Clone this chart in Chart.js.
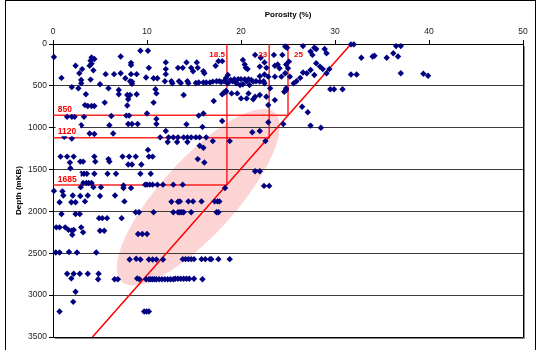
<!DOCTYPE html>
<html>
<head>
<meta charset="utf-8">
<script src="https://cdn.jsdelivr.net/npm/chart.js@4/dist/chart.umd.min.js"></script>
<style>
  html, body { margin: 0; padding: 0; background: #fff; }
  canvas { display: block; }
</style>
</head>
<body>
<canvas id="chart" width="540" height="350"></canvas>
<script>
// Core samples: [porosity (%), depth (mKB)]
const samples = [
  [0.1,155],[9.3,80],[10.1,80],[7.2,150],[4.1,160],[4.4,180],[4.0,200],[4.1,235],[3.9,260],[17.6,205],
  [18.0,205],[17.3,260],[8.3,225],[12.0,220],[14.2,220],[15.3,220],[2.4,260],[10.2,285],[8.3,250],[13.3,285],
  [13.8,285],[14.7,285],[15.4,285],[3.1,300],[2.8,350],[12.0,300],[14.9,325],[16.0,325],[16.1,350],[5.6,360],
  [6.5,360],[7.2,350],[8.3,360],[8.9,360],[12.0,360],[4.3,315],[0.9,405],[3.0,430],[4.0,425],[7.7,410],
  [9.9,400],[10.7,410],[11.1,410],[8.2,445],[8.4,450],[8.4,475],[11.9,445],[12.6,445],[12.7,470],[13.4,445],
  [13.6,465],[14.3,445],[14.4,470],[15.2,465],[15.5,460],[16.0,460],[16.3,460],[16.7,460],[17.0,450],[17.4,445],
  [17.7,445],[18.2,445],[18.4,405],[3.0,470],[5.0,480],[2.0,515],[2.7,530],[5.9,530],[7.0,550],[7.0,600],
  [7.9,610],[8.2,610],[8.9,600],[10.9,540],[11.0,590],[13.9,610],[3.5,600],[18.2,580],[18.4,560],[18.0,600],
  [8.0,660],[10.7,700],[5.5,700],[7.9,735],[3.4,730],[3.7,740],[4.1,740],[4.4,740],[1.7,750],[17.1,680],
  [10.0,830],[1.5,870],[2.0,870],[2.3,870],[3.3,870],[7.8,855],[8.1,855],[6.2,860],[11.0,895],[16.0,830],
  [15.5,855],[6.0,970],[8.0,955],[8.4,955],[9.0,955],[11.0,955],[14.2,960],[3.0,970],[18.0,920],[3.9,1070],
  [4.4,1075],[6.4,1070],[12.0,1040],[2.0,1130],[1.2,1110],[11.4,1115],[12.3,1115],[12.8,1115],[13.3,1115],[13.9,1115],
  [14.3,1115],[14.7,1115],[15.2,1115],[15.6,1115],[16.3,1115],[17.0,1160],[12.2,1170],[13.2,1170],[14.3,1170],[15.9,990],
  [15.6,1215],[16.0,1240],[10.1,1265],[0.8,1345],[1.5,1345],[2.2,1345],[2.9,1405],[3.2,1405],[4.4,1345],[4.5,1405],
  [5.9,1375],[6.0,1405],[7.4,1345],[8.1,1345],[8.8,1345],[10.2,1345],[10.6,1345],[8.0,1440],[8.4,1440],[9.4,1440],
  [15.4,1375],[16.1,1415],[1.8,1415],[1.85,1485],
  [21.5,130],[23.5,130],[24.4,130],[24.7,30],[24.9,45],[26.6,25],[27.4,90],[27.6,130],[27.8,45],[28.0,60],
  [28.9,60],[29.1,110],[20.2,190],[20.4,245],[20.5,285],[20.7,300],[22.1,165],[22.5,220],[22.0,270],[22.7,285],
  [23.6,260],[23.9,245],[24.1,290],[24.8,245],[25.0,290],[25.1,210],[28.0,230],[28.4,270],[28.7,300],[27.4,310],
  [27.0,350],[27.8,370],[29.4,300],[29.1,350],[26.6,340],[26.3,405],[25.9,445],[25.6,470],[24.7,350],[25.2,390],
  [24.3,390],[23.6,390],[22.9,390],[22.5,365],[22.0,385],[32.8,165],[34.0,150],[34.2,140],[35.5,165],[36.2,110],
  [36.7,150],[36.5,25],[37.0,25],[31.7,5],[32.0,5],[37.0,350],[31.7,365],[32.3,365],[39.4,355],[39.9,380],
  [18.6,370],[19.3,420],[19.7,420],[20.0,420],[20.4,420],[20.8,420],[21.1,430],[21.6,445],[22.0,450],[22.4,445],
  [22.5,470],[19.5,470],[19.9,490],[20.2,480],[20.9,490],[18.6,470],[18.4,570],[19.0,590],[19.6,590],[20.0,650],
  [20.6,650],[20.8,590],[21.3,660],[21.5,630],[22.0,610],[22.7,630],[23.1,530],[23.6,670],[22.9,730],[24.6,570],
  [24.8,550],[24.8,530],[29.5,540],[29.9,540],[30.8,540],[26.5,750],[27.1,815],[27.4,975],[28.5,1000],[22.9,935],
  [22.0,1040],[21.2,1055],[24.5,955],[22.6,1160],[18.8,1160],[21.5,1520],[22.0,1520],
  [18.9,430],[19.1,445],[19.4,440],[20.6,445],[21.3,450],[17.9,455],[18.5,460],
  [3.0,1550],[3.3,1550],[3.6,1550],[4.4,1550],[5.8,1550],[6.7,1550],[9.3,1550],[10.4,1550],
  [3.2,1660],[3.55,1660],[3.8,1660],[4.1,1660],
  [2.95,1710],[4.3,1710],[5.1,1710],[7.5,1690],[7.5,1720],[8.3,1720],[9.8,1680],[10.0,1680],[10.3,1680],[10.6,1680],
  [11.1,1680],[11.7,1680],[12.8,1680],[13.8,1680],[18.3,1720],[22.45,1695],[23.0,1695],
  [0.1,1755],[1.0,1760],[1.1,1810],[2.1,1810],[2.9,1815],[3.7,1810],[5.0,1815],[6.6,1810],
  [0.7,1890],[1.95,1890],[2.4,1890],[3.4,1880],[7.6,1880],[12.6,1885],[13.3,1885],
  [13.5,1880],[14.4,1880],[14.9,1880],[15.8,1880],[17.2,1880],[17.5,1880],[17.7,1880],
  [0.9,2030],[2.4,2030],[2.85,2030],[8.8,2010],[9.15,2010],[10.7,2010],[12.8,2010],[13.3,2010],
  [13.5,2010],[13.7,2010],[13.9,2010],[14.7,2010],[17.4,2010],[17.6,2010],
  [4.9,2080],[5.25,2080],[5.75,2080],[7.3,2080],
  [0.35,2190],[0.7,2190],[1.3,2190],[1.65,2220],[2.0,2230],[2.2,2220],[2.05,2280],[3.0,2190],[3.2,2250],[5.0,2230],
  [5.45,2230],[9.05,2270],[9.5,2270],[10.0,2270],
  [0.3,2490],[0.7,2490],[1.7,2485],[2.55,2490],[4.6,2490],
  [8.15,2575],[8.85,2565],[9.3,2575],[10.2,2575],[10.6,2575],[11.0,2575],[11.7,2575],
  [13.8,2570],[14.1,2570],[14.4,2570],[14.7,2570],[15.0,2570],[15.8,2570],[16.2,2570],[16.7,2570],[16.85,2570],[17.6,2570],
  [18.8,2570],
  [1.5,2745],[1.95,2800],[2.2,2745],[2.85,2745],[3.7,2745],[4.85,2745],[4.8,2810],[6.55,2810],[6.9,2810],[8.95,2800],
  [9.2,2810],[9.9,2810],[10.2,2810],[10.4,2810],[10.6,2810],[10.8,2810],[11.0,2810],[11.3,2810],[11.6,2810],[11.9,2810],
  [12.2,2810],[12.5,2810],[12.8,2810],[13.0,2805],[13.3,2805],[13.6,2805],[13.9,2805],[14.2,2805],[14.5,2805],[15.0,2805],
  [15.9,2810],
  [2.4,2960],[2.15,3080],[0.7,3195],[9.7,3195],[9.95,3195],[10.2,3195]
];

// Compaction trend: [porosity, depth] end points
const trendLine = [[31.7, 0], [4.2, 3500]];

// Cut-offs where the trend meets each depth
const cutoffDepths = [850, 1120, 1685];
const cutoffPorosity = [25, 23, 18.5];

// Axis ticks
const porosityTicks = [0, 10, 20, 30, 40, 50];
const depthTicks = [0, 500, 1000, 1500, 2000, 2500, 3000, 3500];

// Shaded envelope (data units): centre, end of long axis, short/long ratio
const envelope = { center: [15.45, 1830], tip: [23.6, 820], ratio: 0.33 };

const FONT = "'Liberation Sans', Arial, Helvetica, sans-serif";
Chart.defaults.font.family = FONT;

const RED = '#ff0000';

const stepSets = cutoffDepths.map((d, i) => ({
  type: 'line',
  data: [{ x: 0, y: d }, { x: cutoffPorosity[i], y: d }, { x: cutoffPorosity[i], y: 0 }],
  borderColor: 'rgba(255,0,0,0.85)',
  borderWidth: 1.5,
  pointRadius: 0,
  fill: false,
  tension: 0,
  order: 2
}));

// Shaded envelope under the grid and a white page
const backdrop = {
  id: 'backdrop',
  beforeDraw(chart) {
    const { ctx, scales: { x, y } } = chart;
    ctx.save();
    ctx.fillStyle = '#fff';
    ctx.fillRect(0, 0, chart.width, chart.height);
    const cx = x.getPixelForValue(envelope.center[0]);
    const cy = y.getPixelForValue(envelope.center[1]);
    const tx = x.getPixelForValue(envelope.tip[0]);
    const ty = y.getPixelForValue(envelope.tip[1]);
    const a = Math.hypot(tx - cx, ty - cy);
    const b = a * envelope.ratio;
    const rot = Math.atan2(ty - cy, tx - cx);
    ctx.beginPath();
    ctx.ellipse(cx, cy, a, b, rot, 0, Math.PI * 2);
    ctx.fillStyle = 'rgb(252,212,212)';
    ctx.fill();
    ctx.restore();
  }
};

// Cut-off labels, plot frame and outer border
const overlay = {
  id: 'overlay',
  afterDraw(chart) {
    const { ctx, chartArea: ca, scales: { x, y } } = chart;
    ctx.save();

    // plot frame: right and bottom edges with a grey drop shadow
    ctx.lineWidth = 1;
    ctx.strokeStyle = '#888';
    ctx.beginPath();
    ctx.moveTo(Math.round(ca.right) + 1.5, ca.top + 2);
    ctx.lineTo(Math.round(ca.right) + 1.5, Math.round(ca.bottom) + 1.5);
    ctx.lineTo(ca.left + 2, Math.round(ca.bottom) + 1.5);
    ctx.stroke();
    ctx.strokeStyle = '#000';
    ctx.beginPath();
    ctx.moveTo(Math.round(ca.right) + 0.5, ca.top);
    ctx.lineTo(Math.round(ca.right) + 0.5, Math.round(ca.bottom) + 0.5);
    ctx.lineTo(ca.left, Math.round(ca.bottom) + 0.5);
    ctx.stroke();

    // outer border
    ctx.strokeRect(5.5, 0.5, 530, 380);

    // porosity cut-off labels
    ctx.font = "bold 8px " + FONT;
    ctx.fillStyle = RED;
    ctx.textBaseline = 'middle';
    const rowY = y.getPixelForValue(130);
    cutoffPorosity.forEach((p, i) => {
      const px = x.getPixelForValue(p);
      const text = String(p);
      if (i === 0) {
        ctx.textAlign = 'left';
        ctx.fillText(text, px + 6, rowY);
      } else {
        ctx.textAlign = 'right';
        ctx.fillText(text, px - 2, rowY);
      }
    });

    // depth cut-off labels on white tabs
    ctx.font = "bold 8.5px " + FONT;
    ctx.textAlign = 'left';
    ctx.textBaseline = 'alphabetic';
    const lx = x.getPixelForValue(0.5);
    cutoffDepths.forEach(d => {
      const py = y.getPixelForValue(d) - 3.5;
      const text = String(d);
      const w = ctx.measureText(text).width;
      ctx.fillStyle = '#fff';
      ctx.fillRect(lx - 2, py - 9, w + 6, 11);
      ctx.fillStyle = RED;
      ctx.fillText(text, lx, py);
    });

    ctx.restore();
  }
};

new Chart(document.getElementById('chart'), {
  data: {
    datasets: [
      {
        type: 'scatter',
        data: samples.map(([p, d]) => ({ x: p, y: d })),
        pointStyle: 'rectRot',
        pointRadius: 3.2,
        backgroundColor: '#000080',
        borderColor: '#000080',
        borderWidth: 0,
        clip: false,
        order: 0
      },
      {
        type: 'line',
        data: trendLine.map(([p, d]) => ({ x: p, y: d })),
        borderColor: RED,
        borderWidth: 1.5,
        pointRadius: 0,
        fill: false,
        order: 1
      },
      ...stepSets
    ]
  },
  options: {
    responsive: false,
    animation: false,
    devicePixelRatio: 1,
    layout: { padding: { left: 0, top: 0, right: 17, bottom: 13 } },
    plugins: { legend: { display: false }, tooltip: { enabled: false } },
    scales: {
      x: {
        type: 'linear',
        position: 'top',
        min: 0,
        max: 50,
        afterBuildTicks: s => { s.ticks = porosityTicks.map(v => ({ value: v })); },
        afterFit: s => { s.height = 44; },
        grid: { drawOnChartArea: false, drawTicks: true, tickLength: 4, color: '#000', tickColor: '#000' },
        border: { display: true, color: '#000', width: 1 },
        ticks: { color: '#222', padding: 3, maxRotation: 0, font: { size: 8.5 }, callback: v => String(v) },
        title: {
          display: true,
          text: 'Porosity (%)',
          color: '#000',
          font: { size: 8, weight: 'bold' },
          padding: { top: 10, bottom: 0 }
        }
      },
      y: {
        type: 'linear',
        reverse: true,
        min: 0,
        max: 3500,
        afterBuildTicks: s => { s.ticks = depthTicks.map(v => ({ value: v })); },
        afterFit: s => { s.width = 53; },
        grid: { color: '#3a3a3a', tickColor: '#000', tickLength: 4, lineWidth: 1 },
        border: { display: true, color: '#000', width: 1 },
        ticks: { color: '#222', padding: 2, font: { size: 8.5 }, callback: v => String(v) },
        title: {
          display: true,
          text: 'Depth (mKB)',
          color: '#000',
          font: { size: 8, weight: 'bold' },
          padding: { top: 13.5, bottom: 0 }
        }
      }
    }
  },
  plugins: [backdrop, overlay]
});
</script>
</body>
</html>
